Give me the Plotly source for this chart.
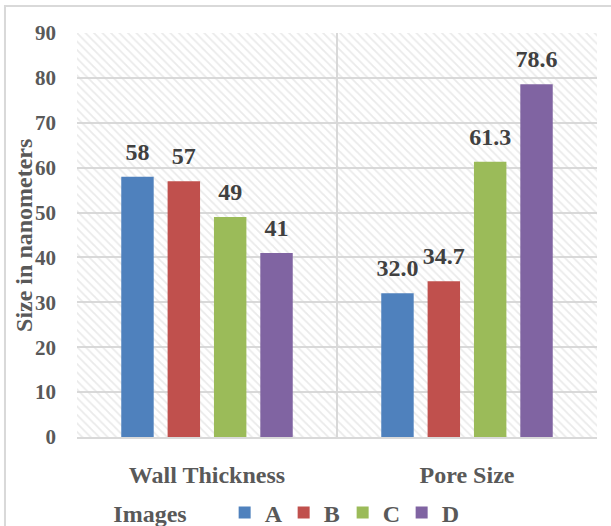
import plotly.graph_objects as go

categories = ["Wall Thickness", "Pore Size"]
series_names = ["A", "B", "C", "D"]
values_A = [58, 32.0]
values_B = [57, 34.7]
values_C = [49, 61.3]
values_D = [41, 78.6]
label_formats = ["{:.0f}", "{:.1f}"]
y_ticks = [0, 10, 20, 30, 40, 50, 60, 70, 80, 90]
Y_MAX = 90

colors = ["#4F81BD", "#C0504D", "#9BBB59", "#8064A2"]
FONT = "Liberation Serif, Times New Roman, serif"
GRID = "#D9D9D9"
TXT = "#595959"
BARGAP = 0.287

fig = go.Figure()

# hatched plot-area background on the base axes
fig.add_trace(go.Bar(
    x=[0.5], y=[Y_MAX], width=[1], xaxis="x", yaxis="y",
    marker=dict(color="rgba(0,0,0,0)", line=dict(width=0),
                pattern=dict(shape="\\", fgcolor="#D6D6D6", bgcolor="rgba(0,0,0,0)",
                             size=6, solidity=0.3)),
    showlegend=False, hoverinfo="skip",
))

all_vals = [values_A, values_B, values_C, values_D]
for i, (name, vals, col) in enumerate(zip(series_names, all_vals, colors)):
    fig.add_trace(go.Bar(
        name=name, x=categories, y=vals, xaxis="x2", yaxis="y",
        offsetgroup=str(i),
        marker=dict(color=col, line=dict(width=0)),
    ))

# data labels, grouped like the bars
for i, (name, vals) in enumerate(zip(series_names, all_vals)):
    fig.add_trace(go.Scatter(
        x=categories, y=vals, xaxis="x2", yaxis="y",
        mode="markers+text", orientation="v", offsetgroup=str(i),
        marker=dict(size=16, opacity=0, color="white"),
        text=[f.format(v) for f, v in zip(label_formats, vals)],
        textposition="top center", cliponaxis=False,
        textfont=dict(family=FONT, size=24, color="#404040", weight="bold"),
        showlegend=False, hoverinfo="skip",
    ))

fig.update_layout(
    width=611, height=526,
    margin=dict(l=77, r=14, t=33, b=89, autoexpand=False),
    paper_bgcolor="white", plot_bgcolor="white",
    font=dict(family=FONT, color=TXT, size=24, weight="bold"),
    barmode="group", bargap=BARGAP, bargroupgap=0.3,
    scattermode="group", scattergap=BARGAP,
    xaxis=dict(range=[0, 1], visible=False, showgrid=False, fixedrange=True),
    xaxis2=dict(overlaying="x", type="category", tickson="boundaries",
                showgrid=True, gridcolor=GRID, gridwidth=1.5,
                showline=True, linecolor=GRID, linewidth=1.5,
                ticks="", ticklabelstandoff=15,
                tickfont=dict(family=FONT, size=24, color=TXT, weight="bold"),
                side="bottom", anchor="y"),
    yaxis=dict(range=[0, Y_MAX], tickvals=y_ticks, showgrid=True, gridcolor=GRID,
               gridwidth=1.5, zeroline=False, showline=False,
               ticks="", ticklabelstandoff=20,
               tickfont=dict(family=FONT, size=21, color=TXT, weight="bold")),
    legend=dict(orientation="h", x=0.066, xanchor="left", y=-0.188, yanchor="middle",
                title=dict(text="Images     ", font=dict(family=FONT, size=24, color=TXT, weight="bold")),
                font=dict(family=FONT, size=24, color=TXT, weight="bold"),
                entrywidth=14, traceorder="normal"),
    annotations=[dict(text="Size in nanometers", xref="paper", yref="paper",
                      x=-0.102, y=0.5, xanchor="center", yanchor="middle",
                      textangle=-90, showarrow=False,
                      font=dict(family=FONT, size=24, color=TXT, weight="bold"))],
    shapes=[dict(type="rect", xref="paper", yref="paper",
                 x0=-0.1385, x1=1.2, y0=-0.5, y1=1.0668,
                 line=dict(color=GRID, width=2), fillcolor="rgba(0,0,0,0)", layer="below")],
)

fig.write_html("out.html")
